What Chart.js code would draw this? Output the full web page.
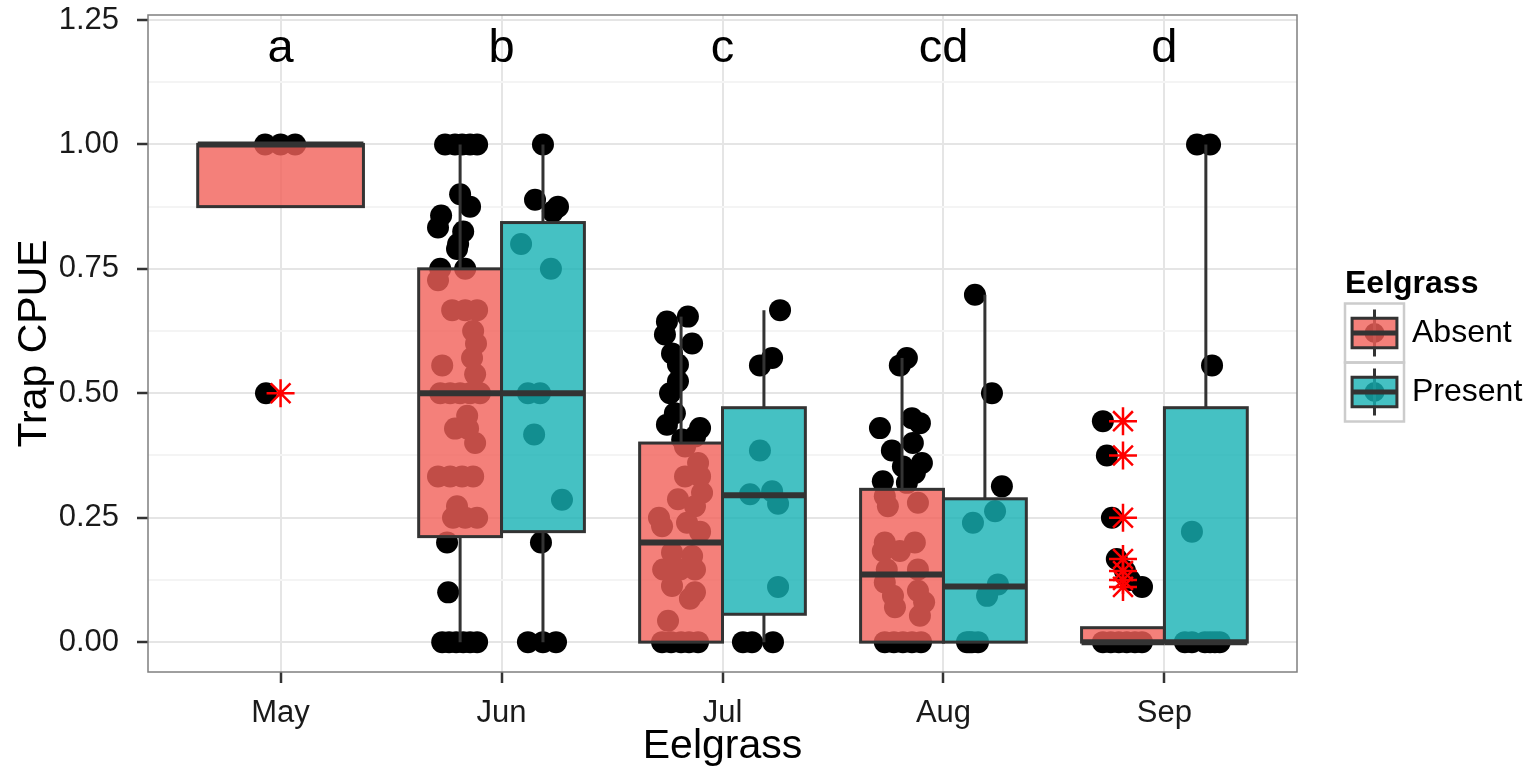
<!DOCTYPE html>
<html>
<head>
<meta charset="utf-8">
<title>Trap CPUE</title>
<script src="https://cdn.jsdelivr.net/npm/chart.js@4.4.1/dist/chart.umd.min.js"></script>
<style>
  html, body { margin: 0; padding: 0; background: #fff; }
  canvas { display: block; }
</style>
</head>
<body>
<canvas id="cpueChart" width="1532" height="772"></canvas>
<script>
// Meses y letras de significancia
const months = ['May', 'Jun', 'Jul', 'Aug', 'Sep'];
const groupLetters = ['a', 'b', 'c', 'cd', 'd'];
const letterY = 1.2;

// Estadísticos de las cajas (Absent)
const absentLow  = [0.875, 0, 0, 0, 0];
const absentQ1   = [0.875, 0.212, 0, 0, 0];
const absentMed  = [1.0, 0.5, 0.2, 0.136, 0];
const absentQ3   = [1.0, 0.75, 0.4, 0.307, 0.029];
const absentHigh = [1.0, 1.0, 0.654, 0.571, 0.029];

// Estadísticos de las cajas (Present), sin datos en mayo
const presentLow  = [null, 0, 0, 0, 0];
const presentQ1   = [null, 0.222, 0.056, 0, 0];
const presentMed  = [null, 0.5, 0.295, 0.112, 0];
const presentQ3   = [null, 0.843, 0.471, 0.288, 0.471];
const presentHigh = [null, 1.0, 0.667, 0.698, 1.0];

// Valores atípicos (solo Absent)
const absentOutliers = [[0.5], [], [], [], [0.444, 0.375, 0.25, 0.167, 0.143, 0.125, 0.111]];

// Observaciones por mes: CPUE y desplazamiento del jitter
const absentY = [
  [1, 1, 1, 0.5],
  [1, 1, 1, 1, 1, 0.9, 0.875, 0.857, 0.833, 0.825, 0.8, 0.79, 0.75, 0.75, 0.727, 0.667, 0.667, 0.667, 0.625, 0.6, 0.571, 0.556, 0.538, 0.5, 0.5, 0.5, 0.5, 0.5, 0.455, 0.429, 0.429, 0.4, 0.333, 0.333, 0.333, 0.333, 0.273, 0.25, 0.25, 0.25, 0.2, 0.1, 0, 0, 0, 0, 0, 0],
  [0.654, 0.644, 0.618, 0.6, 0.58, 0.558, 0.524, 0.5, 0.46, 0.437, 0.43, 0.413, 0.407, 0.393, 0.36, 0.333, 0.333, 0.3, 0.287, 0.273, 0.25, 0.24, 0.233, 0.222, 0.18, 0.173, 0.146, 0.146, 0.146, 0.113, 0.1, 0.087, 0.043, 0, 0, 0, 0, 0],
  [0.571, 0.556, 0.45, 0.44, 0.43, 0.4, 0.385, 0.36, 0.353, 0.34, 0.323, 0.32, 0.293, 0.28, 0.273, 0.2, 0.2, 0.183, 0.183, 0.146, 0.146, 0.12, 0.103, 0.093, 0.08, 0.07, 0.053, 0, 0, 0, 0, 0],
  [0.444, 0.375, 0.25, 0.167, 0.143, 0.125, 0.111, 0, 0, 0, 0, 0, 0]
];
const absentJitter = [
  [-0.07, 0, 0.066, -0.066],
  [-0.068, -0.023, 0.009, 0.045, 0.077, 0, 0.045, -0.086, -0.1, 0.014, -0.009, -0.014, -0.09, 0.023, -0.1, -0.036, 0.023, 0.077, 0.059, 0.072, 0.054, -0.081, 0.068, -0.09, -0.045, 0, 0.045, 0.09, 0.032, -0.023, 0.036, 0.068, -0.1, -0.045, 0.009, 0.059, -0.014, -0.032, 0.023, 0.077, -0.059, -0.054, -0.081, -0.05, -0.018, 0.014, 0.045, 0.077],
  [0.031, -0.064, -0.073, 0.05, -0.041, -0.014, -0.014, -0.05, -0.028, -0.064, 0.086, 0.063, 0.005, 0.018, 0.077, 0.018, 0.086, 0.095, -0.014, 0.063, -0.1, 0.027, -0.086, 0.086, -0.041, 0.05, -0.081, -0.005, 0.063, -0.041, 0.063, 0.04, -0.059, -0.086, -0.045, 0, 0.036, 0.077],
  [0.022, -0.01, 0.045, 0.081, -0.1, 0.049, -0.046, 0.09, 0.004, 0.058, -0.087, 0.022, -0.078, 0.072, -0.064, -0.078, 0.058, -0.087, -0.01, -0.069, 0.072, -0.078, 0.072, -0.041, 0.1, -0.032, 0.081, -0.078, -0.037, 0.004, 0.045, 0.086],
  [-0.091, -0.073, -0.05, -0.028, 0.009, 0.031, 0.086, -0.091, -0.055, -0.019, 0.017, 0.054, 0.086]
];
const presentY = [
  [],
  [1, 0.889, 0.875, 0.865, 0.8, 0.75, 0.5, 0.5, 0.417, 0.286, 0.2, 0, 0, 0],
  [0.667, 0.571, 0.556, 0.385, 0.303, 0.297, 0.278, 0.111, 0, 0, 0],
  [0.698, 0.5, 0.313, 0.263, 0.24, 0.116, 0.093, 0, 0, 0, 0],
  [1, 1, 0.556, 0.222, 0, 0, 0, 0, 0, 0]
];
const presentJitter = [
  [],
  [0, -0.036, 0.068, 0.045, -0.099, 0.036, -0.068, -0.013, -0.04, 0.086, -0.009, -0.068, 0, 0.059],
  [0.073, 0.037, -0.018, -0.018, 0.037, -0.063, 0.064, 0.064, -0.095, -0.054, 0.041],
  [-0.045, 0.032, 0.077, 0.046, -0.054, 0.059, 0.01, -0.081, -0.07, -0.059, -0.031],
  [-0.04, 0.019, 0.028, -0.063, -0.095, -0.063, -0.004, 0.019, 0.041, 0.063]
];

const FONT = "'Liberation Sans', Arial, Helvetica, sans-serif";
const boxWidth = 0.75;

const groups = [
  { name: 'Absent', fill: 'rgba(241, 96, 89, 0.8)', low: absentLow, q1: absentQ1, med: absentMed, q3: absentQ3, high: absentHigh },
  { name: 'Present', fill: 'rgba(22, 177, 180, 0.8)', low: presentLow, q1: presentQ1, med: presentMed, q3: presentQ3, high: presentHigh }
];

// Posición esquivada (dodge) de cada grupo dentro del mes
function dodge(i, name) {
  const both = presentQ1[i] !== null;
  if (!both) return { offset: 0, width: boxWidth };
  return { offset: name === 'Absent' ? -boxWidth / 4 : boxWidth / 4, width: boxWidth / 2 };
}

function toPoints(ys, jit, name) {
  const pts = [];
  ys.forEach((vals, i) => {
    const d = dodge(i, name);
    vals.forEach((v, k) => pts.push({ x: i + 1 + d.offset + jit[i][k], y: v }));
  });
  return pts;
}

const outlierPoints = [];
absentOutliers.forEach((vals, i) => {
  const d = dodge(i, 'Absent');
  vals.forEach(v => outlierPoints.push({ x: i + 1 + d.offset, y: v }));
});

const isMajor = v => Math.abs(v * 4 - Math.round(v * 4)) < 1e-6;

// Cajas: encima de los puntos y debajo de los atípicos
const boxPlugin = {
  id: 'boxes',
  beforeDatasetDraw(chart, args) {
    if (args.index !== 0) return;
    const { ctx, scales: { x, y } } = chart;
    ctx.save();
    ctx.strokeStyle = '#333333';
    ctx.lineCap = 'butt';
    ctx.lineJoin = 'miter';
    groups.forEach(g => {
      months.forEach((m, i) => {
        if (g.q1[i] === null) return;
        const d = dodge(i, g.name);
        const cx = x.getPixelForValue(i + 1 + d.offset);
        const half = Math.abs(x.getPixelForValue(d.width / 2) - x.getPixelForValue(0));
        const pLow = y.getPixelForValue(g.low[i]);
        const pQ1 = y.getPixelForValue(g.q1[i]);
        const pMed = y.getPixelForValue(g.med[i]);
        const pQ3 = y.getPixelForValue(g.q3[i]);
        const pHigh = y.getPixelForValue(g.high[i]);

        ctx.lineWidth = 3;
        ctx.beginPath();
        ctx.moveTo(cx, pQ3); ctx.lineTo(cx, pHigh);
        ctx.moveTo(cx, pQ1); ctx.lineTo(cx, pLow);
        ctx.stroke();

        ctx.fillStyle = g.fill;
        ctx.fillRect(cx - half, pQ3, half * 2, pQ1 - pQ3);
        ctx.strokeRect(cx - half, pQ3, half * 2, pQ1 - pQ3);

        ctx.lineWidth = 6;
        ctx.beginPath();
        ctx.moveTo(cx - half, pMed); ctx.lineTo(cx + half, pMed);
        ctx.stroke();
      });
    });
    ctx.restore();
  }
};

// Letras, borde del panel y leyenda
const decorPlugin = {
  id: 'decor',
  afterDraw(chart) {
    const { ctx, chartArea: a, scales: { x, y } } = chart;
    ctx.save();

    ctx.fillStyle = '#000';
    ctx.font = '47px ' + FONT;
    ctx.textAlign = 'center';
    ctx.textBaseline = 'middle';
    groupLetters.forEach((t, i) => ctx.fillText(t, x.getPixelForValue(i + 1), y.getPixelForValue(letterY) + 4));

    ctx.strokeStyle = '#7f7f7f';
    ctx.lineWidth = 1.5;
    ctx.strokeRect(a.left, a.top, a.width, a.height);

    // leyenda
    const lx = a.right + 48;
    const keySize = 59;
    const top = (a.top + a.bottom) / 2 - 40;
    ctx.textAlign = 'left';
    ctx.textBaseline = 'alphabetic';
    ctx.font = 'bold 32px ' + FONT;
    ctx.fillText('Eelgrass', lx, top - 11);
    groups.forEach((g, k) => {
      const ky = top + k * keySize;
      const cx = lx + keySize / 2;
      const cy = ky + keySize / 2;
      ctx.strokeStyle = '#cccccc';
      ctx.lineWidth = 2.5;
      ctx.strokeRect(lx, ky, keySize, keySize);
      ctx.fillStyle = '#000';
      ctx.beginPath();
      ctx.arc(cx, cy, 10, 0, Math.PI * 2);
      ctx.fill();
      ctx.strokeStyle = '#333333';
      ctx.lineWidth = 3;
      ctx.beginPath();
      ctx.moveTo(cx, ky + 6); ctx.lineTo(cx, ky + keySize - 6);
      ctx.stroke();
      const bx = lx + keySize * 0.12, bw = keySize * 0.76;
      const by = ky + keySize * 0.25, bh = keySize * 0.5;
      ctx.fillStyle = g.fill;
      ctx.fillRect(bx, by, bw, bh);
      ctx.strokeRect(bx, by, bw, bh);
      ctx.lineWidth = 5;
      ctx.beginPath();
      ctx.moveTo(bx, cy); ctx.lineTo(bx + bw, cy);
      ctx.stroke();
      ctx.fillStyle = '#000';
      ctx.font = '32px ' + FONT;
      ctx.textBaseline = 'middle';
      ctx.fillText(g.name, lx + keySize + 8, cy);
      ctx.textBaseline = 'alphabetic';
    });
    ctx.restore();
  }
};

Chart.defaults.font.family = FONT;

const chart = new Chart(document.getElementById('cpueChart'), {
  type: 'scatter',
  data: {
    datasets: [
      {
        label: 'outliers',
        data: outlierPoints,
        order: 0,
        pointStyle: 'star',
        pointRadius: 14,
        pointBorderColor: '#ff0000',
        pointBorderWidth: 2.5
      },
      {
        label: 'Absent',
        data: toPoints(absentY, absentJitter, 'Absent'),
        order: 1,
        pointRadius: 11,
        pointBackgroundColor: '#000',
        pointBorderWidth: 0
      },
      {
        label: 'Present',
        data: toPoints(presentY, presentJitter, 'Present'),
        order: 1,
        pointRadius: 11,
        pointBackgroundColor: '#000',
        pointBorderWidth: 0
      }
    ]
  },
  options: {
    responsive: false,
    animation: false,
    events: [],
    layout: { autoPadding: false, padding: { top: 15, right: 235, left: 0, bottom: 0 } },
    plugins: {
      legend: { display: false },
      tooltip: { enabled: false }
    },
    scales: {
      x: {
        type: 'linear',
        min: 0.4,
        max: 5.6,
        afterFit: s => { s.height = 100; s.paddingLeft = 0; s.paddingRight = 0; },
        border: { display: false },
        grid: { color: '#e5e5e5', lineWidth: 2, tickColor: '#333', tickWidth: 2.5, tickLength: 11 },
        ticks: {
          stepSize: 1,
          includeBounds: false,
          autoSkip: false,
          maxRotation: 0,
          padding: 12,
          color: '#1a1a1a',
          font: { size: 31 },
          callback: v => months[v - 1] || ''
        },
        title: { display: true, text: 'Eelgrass', color: '#000', font: { size: 41 }, padding: { top: 0, bottom: 1 } }
      },
      y: {
        type: 'linear',
        min: -0.06,
        max: 1.26,
        afterFit: s => { s.width = 148; s.paddingTop = 0; s.paddingBottom = 0; },
        border: { display: false },
        grid: {
          color: c => isMajor(c.tick.value) ? '#e5e5e5' : '#f4f4f4',
          lineWidth: 2,
          tickColor: c => isMajor(c.tick.value) ? '#333' : 'rgba(0,0,0,0)',
          tickWidth: 2.5,
          tickLength: 11
        },
        ticks: {
          stepSize: 0.125,
          includeBounds: false,
          maxTicksLimit: 30,
          autoSkip: false,
          padding: 18,
          color: '#1a1a1a',
          font: { size: 31 },
          callback: v => isMajor(v) ? v.toFixed(2) : ''
        },
        title: { display: true, text: 'Trap CPUE', color: '#000', font: { size: 41 }, padding: { top: 10, bottom: 0 } }
      }
    }
  },
  plugins: [boxPlugin, decorPlugin]
});
</script>
</body>
</html>
